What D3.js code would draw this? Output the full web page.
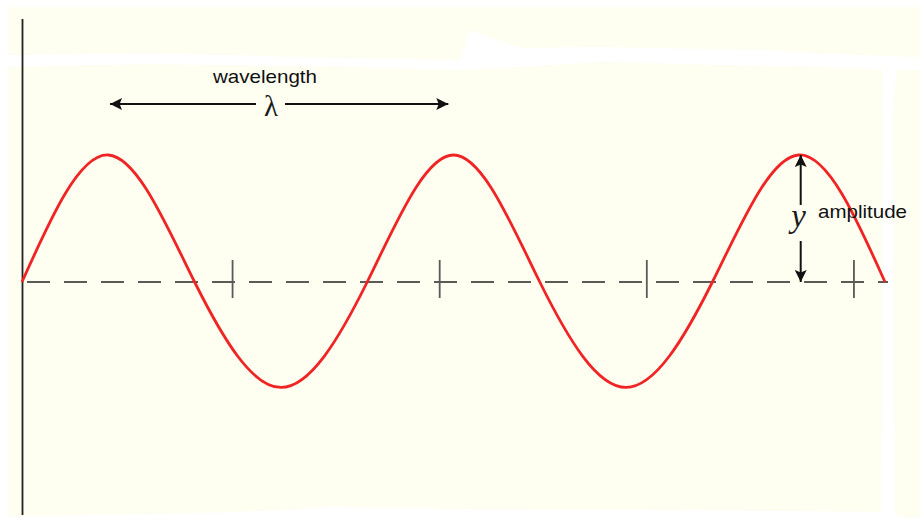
<!DOCTYPE html>
<html><head><meta charset="utf-8">
<script src="https://cdn.jsdelivr.net/npm/d3@7"></script>
<style>html,body{margin:0;padding:0;background:#fff;}svg{display:block;}</style>
</head><body>
<svg id="c" width="920" height="531"></svg>
<script>
// Wave key points in wavelengths (x) and relative displacement (y)
const wavePhase = [0, 0.25, 0.5, 0.75, 1.0, 1.25, 1.5, 1.75, 2.0, 2.25, 2.5];
const waveValue = [0, 1, 0, -0.83, 0, 1, 0, -0.83, 0, 1, 0];
const tickValues = [0.61, 1.21, 1.81, 2.41];
const wavelengthSpan = [0.255, 1.235];
const amplitudeAt = 2.25;
const labels = {wavelength: "wavelength", lambda: "λ", amplitude: "amplitude", y: "y"};

const svg = d3.select("#c");
const x = d3.scaleLinear().domain([0, 2.5]).range([22, 885]);
const y = d3.scaleLinear().domain([-1, 1]).range([409, 155]);

// background (cream paper with erased white streaks)
svg.append("rect").attr("x", 8).attr("y", 7).attr("width", 912).attr("height", 510).attr("fill", "#fefef1");
const white = "#ffffff";
svg.append("path").attr("fill", white)
  .attr("d", "M0,55 L150,53 L300,57 L460,60 L470,30 L520,48 L600,47 L760,50 L860,55 L920,57 L920,70 L760,66 L600,62 L520,67 L460,70 L300,66 L150,64 L0,67 Z");
svg.append("path").attr("fill", white)
  .attr("d", "M882,60 L897,60 L893,120 L895,531 L880,531 L882,400 Z");
svg.append("path").attr("fill", white)
  .attr("d", "M0,517 L240,512 L330,507 L480,509 L700,510 L880,512 L920,520 L920,531 L0,531 Z");
svg.append("rect").attr("x", 0).attr("y", 0).attr("width", 8).attr("height", 531).attr("fill", white);

// vertical axis
svg.append("line").attr("x1", x(0) + 0.5).attr("x2", x(0) + 0.5).attr("y1", 19).attr("y2", 515)
  .attr("stroke", "#222").attr("stroke-width", 1.8);

// dashed equilibrium line
svg.append("line").attr("x1", x(0)).attr("x2", 888).attr("y1", y(0)).attr("y2", y(0))
  .attr("stroke", "#5a5a56").attr("stroke-width", 1.8)
  .attr("stroke-dasharray", "23,14").attr("stroke-dashoffset", 32);

// tick marks
svg.selectAll("line.tk").data(tickValues).enter().append("line").attr("class", "tk")
  .attr("x1", d => x(d)).attr("x2", d => x(d))
  .attr("y1", y(0) - 22).attr("y2", y(0) + 16)
  .attr("stroke", "#5a5a56").attr("stroke-width", 1.8);

// wave
const pts = wavePhase.map((p, i) => [p, waveValue[i]]);
svg.append("path").datum(pts)
  .attr("d", d3.line().x(d => x(d[0])).y(d => y(d[1])).curve(d3.curveNatural))
  .attr("fill", "none").attr("stroke", "#f02424").attr("stroke-width", 2.8);

// arrowheads
const defs = svg.append("defs");
defs.append("marker").attr("id", "ah").attr("viewBox", "0 0 10 10").attr("refX", 10).attr("refY", 5)
  .attr("markerWidth", 15).attr("markerHeight", 12).attr("markerUnits", "userSpaceOnUse")
  .attr("orient", "auto").append("path").attr("d", "M0,0 L10,5 L0,10 L2,5 Z").attr("fill", "#111");

// wavelength arrow
const wy = 104;
svg.append("line").attr("x1", 256).attr("x2", x(wavelengthSpan[0])).attr("y1", wy).attr("y2", wy)
  .attr("stroke", "#111").attr("stroke-width", 2).attr("marker-end", "url(#ah)");
svg.append("line").attr("x1", 285).attr("x2", x(wavelengthSpan[1])).attr("y1", wy).attr("y2", wy)
  .attr("stroke", "#111").attr("stroke-width", 2).attr("marker-end", "url(#ah)");
svg.append("text").attr("x", 271).attr("y", 116).attr("text-anchor", "middle")
  .attr("font-family", "Liberation Serif, serif").attr("font-size", 29).attr("fill", "#1a1a1a")
  .text(labels.lambda);
svg.append("text").attr("x", 213).attr("y", 83)
  .attr("font-family", "Liberation Sans, Arial, sans-serif").attr("font-size", 18.5).attr("fill", "#111")
  .attr("textLength", 104).attr("lengthAdjust", "spacingAndGlyphs")
  .text(labels.wavelength);

// amplitude arrow
const ax = x(amplitudeAt) + 2;
svg.append("line").attr("x1", ax).attr("x2", ax).attr("y1", 205).attr("y2", y(1))
  .attr("stroke", "#111").attr("stroke-width", 2).attr("marker-end", "url(#ah)");
svg.append("line").attr("x1", ax).attr("x2", ax).attr("y1", 241).attr("y2", y(0))
  .attr("stroke", "#111").attr("stroke-width", 2).attr("marker-end", "url(#ah)");
svg.append("text").attr("x", ax - 2).attr("y", 227).attr("text-anchor", "middle")
  .attr("font-family", "Liberation Serif, serif").attr("font-style", "italic").attr("font-size", 33).attr("fill", "#1a1a1a")
  .text(labels.y);
svg.append("text").attr("x", 818).attr("y", 218)
  .attr("font-family", "Liberation Sans, Arial, sans-serif").attr("font-size", 18.5).attr("fill", "#111")
  .attr("textLength", 89).attr("lengthAdjust", "spacingAndGlyphs")
  .text(labels.amplitude);
</script>
</body></html>
